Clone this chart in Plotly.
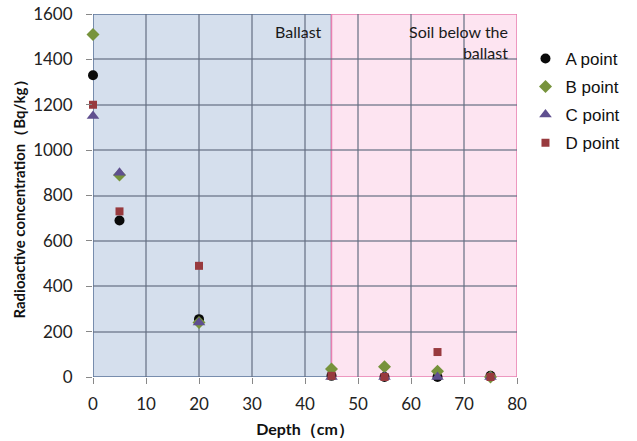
import plotly.graph_objects as go

depth = [0, 5, 20, 45, 55, 65, 75]
a_vals = [1330, 690, 255, 5, 0, 0, 5]
b_vals = [1510, 890, 240, 35, 45, 25, 0]
c_vals = [1150, 900, 240, 0, 0, 0, 0]
d_vals = [1200, 730, 490, 5, 0, 110, 0]
series_names = ["A point", "B point", "C point", "D point"]
x_ticks = [0, 10, 20, 30, 40, 50, 60, 70, 80]
y_ticks = [0, 200, 400, 600, 800, 1000, 1200, 1400, 1600]

styles = [
    dict(symbol="circle", color="#0a0a0a", size=10),
    dict(symbol="diamond", color="#77933C", size=10),
    dict(symbol="triangle-up", color="#5F4F8F", size=11),
    dict(symbol="square", color="#983A3E", size=8),
]

fig = go.Figure()
for i, (name, vals, st) in enumerate(zip(series_names, [a_vals, b_vals, c_vals, d_vals], styles)):
    fig.add_trace(go.Scatter(x=depth, y=vals, mode="markers", name=name, legendgroup=f"g{i}",
                             marker=dict(symbol=st["symbol"], color=st["color"], size=st["size"]),
                             cliponaxis=False))

fig.add_shape(type="rect", x0=0, x1=45, y0=0, y1=1600, layer="below",
              fillcolor="#D5DFED", line=dict(color="#5A7398", width=1.5))
fig.add_shape(type="rect", x0=45, x1=80, y0=0, y1=1600, layer="below",
              fillcolor="#FDE4F1", line=dict(color="#E87FB0", width=1.5))

fig.add_annotation(x=43.5, y=1600, xref="x", yref="y", text="Ballast", showarrow=False,
                   xanchor="right", yanchor="top", yshift=-6,
                   font=dict(family="Lato", size=16, color="#1a1a1a"))
fig.add_annotation(x=78.6, y=1600, xref="x", yref="y", text="Soil below the<br>ballast",
                   showarrow=False, align="right", xanchor="right", yanchor="top", yshift=-6,
                   font=dict(family="Lato", size=16, color="#1a1a1a"))

fig.update_xaxes(range=[0, 80], tickvals=x_ticks, showgrid=True, automargin=False,
                 gridcolor="rgba(100,110,130,0.6)", gridwidth=1.5,
                 ticks="outside", ticklen=6, tickcolor="#888", zeroline=False,
                 ticklabelstandoff=6,
                 tickfont=dict(family="Lato", size=17, color="#222"),
                 title=dict(text="<b>Depth（cm）</b>", font=dict(family="Lato", size=16, color="#111"), standoff=10))
fig.update_yaxes(range=[0, 1600], tickvals=y_ticks, showgrid=True, automargin=False,
                 gridcolor="rgba(100,110,130,0.6)", gridwidth=1.5,
                 ticks="outside", ticklen=6, tickcolor="#888", zeroline=False,
                 ticklabelstandoff=10,
                 tickfont=dict(family="Lato", size=17, color="#222"),
                 title=dict(text="<b>Radioactive concentration（Bq/kg）</b>", font=dict(family="Lato", size=15, color="#111"), standoff=3))

fig.update_layout(width=637, height=441, margin=dict(l=93, r=115, t=14, b=64),
                  plot_bgcolor="white", paper_bgcolor="white",
                  legend=dict(x=1.02, y=0.926, xanchor="left", yanchor="top",
                              font=dict(family="Liberation Sans", size=17, color="#111"),
                              tracegroupgap=3, bgcolor="rgba(0,0,0,0)"),
                  showlegend=True)

fig.write_html("out.html", config={"displayModeBar": False},
               post_script="document.body.style.margin='0';")
